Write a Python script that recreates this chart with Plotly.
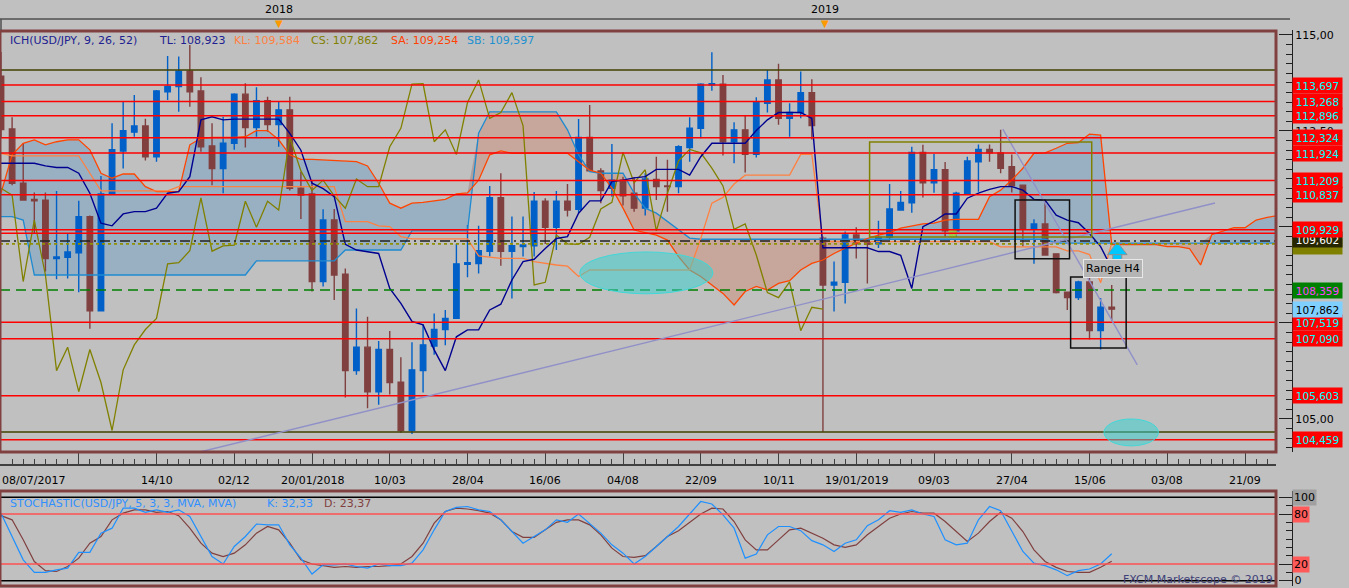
import plotly.graph_objects as go

# ---------------- DATA ----------------
# weekly USD/JPY candles, x = week index (0 = 08/07/2017)
OPEN = [113.93, 112.55, 111.14, 110.72, 110.70, 109.18, 109.21, 109.33, 110.27, 107.82,
        110.86, 111.98, 112.47, 112.63, 111.83, 113.52, 113.66, 114.06, 113.54, 112.11,
        111.52, 112.18, 113.46, 112.59, 113.29, 112.67, 113.05, 111.01, 110.86, 108.58,
        110.18, 108.77, 106.26, 106.87, 105.71, 106.81, 105.96, 104.70, 106.26, 106.90,
        107.33, 107.62, 109.03, 109.05, 109.37, 110.76, 109.37, 109.49, 109.51, 110.67,
        109.99, 110.67, 110.46, 112.33, 111.46, 111.01, 111.22, 110.88, 110.49, 111.24,
        111.07, 111.05, 112.07, 112.57, 113.70, 113.72, 112.22, 112.53, 111.89, 113.22,
        113.83, 112.83, 112.98, 113.50, 109.71, 108.49, 108.56, 109.79, 109.60, 109.56,
        109.73, 110.44, 110.63, 111.94, 111.15, 111.49, 109.90, 110.86, 111.70, 112.02,
        111.93, 111.57, 111.09, 109.94, 110.08, 109.30, 108.30, 108.16, 108.57, 107.30,
        107.91]
HIGH = [114.56, 112.86, 112.18, 110.90, 110.90, 110.94, 109.82, 110.68, 110.30, 111.33,
        112.70, 113.26, 113.44, 112.82, 113.57, 114.45, 114.44, 114.74, 113.90, 112.70,
        112.87, 113.48, 113.74, 113.64, 113.39, 113.28, 113.39, 111.44, 111.22, 110.46,
        110.47, 108.92, 107.88, 107.66, 107.03, 107.29, 106.61, 107.00, 107.47, 107.75,
        107.84, 109.56, 110.05, 110.03, 111.07, 111.40, 110.27, 110.27, 110.91, 110.75,
        110.94, 111.12, 112.81, 113.18, 111.53, 112.16, 111.31, 111.30, 111.40, 111.83,
        111.75, 112.13, 112.86, 113.74, 114.55, 113.96, 112.73, 112.89, 113.38, 114.09,
        114.25, 113.22, 114.05, 113.85, 109.75, 109.10, 109.88, 109.99, 109.70, 110.16,
        111.12, 110.94, 112.09, 112.14, 111.90, 111.69, 110.92, 111.83, 112.15, 112.15,
        112.53, 111.89, 111.10, 110.20, 110.70, 109.30, 108.32, 108.60, 108.70, 108.15,
        108.49]
LOW = [112.31, 111.09, 110.68, 109.84, 108.84, 108.64, 108.66, 108.30, 107.35, 107.80,
       110.85, 111.52, 112.35, 111.73, 111.70, 113.31, 113.00, 113.13, 111.96, 111.09,
       110.88, 112.01, 112.07, 112.35, 112.48, 112.09, 110.95, 110.21, 108.32, 108.45,
       108.10, 105.56, 106.15, 105.28, 105.37, 105.64, 104.64, 104.61, 105.69, 106.67,
       106.92, 107.61, 108.69, 108.79, 109.23, 108.99, 108.14, 109.23, 109.23, 109.56,
       109.40, 110.27, 110.36, 111.44, 110.62, 110.79, 110.56, 110.40, 110.30, 110.70,
       110.40, 110.88, 111.70, 112.31, 113.55, 111.86, 111.66, 111.42, 111.81, 112.98,
       112.66, 112.35, 112.83, 112.28, 104.67, 107.80, 108.01, 109.18, 108.53, 109.45,
       109.68, 110.43, 110.37, 110.77, 110.89, 109.75, 109.75, 110.83, 110.92, 111.70,
       111.40, 110.90, 109.49, 109.04, 109.25, 108.27, 107.84, 108.10, 107.07, 106.81,
       107.56]
CLOSE = [112.54, 111.14, 110.70, 110.68, 109.18, 109.22, 109.35, 110.27, 107.82, 110.86,
         112.01, 112.51, 112.63, 111.83, 113.54, 113.66, 114.06, 113.52, 112.09, 111.52,
         112.18, 113.46, 112.59, 113.29, 112.67, 113.05, 111.01, 110.83, 108.58, 110.18,
         108.75, 106.26, 106.87, 105.71, 106.81, 105.95, 104.70, 106.28, 106.93, 107.33,
         107.62, 109.04, 109.07, 109.38, 110.76, 109.37, 109.51, 109.53, 110.67, 109.99,
         110.67, 110.44, 112.33, 111.46, 110.95, 111.22, 110.81, 110.49, 111.25, 111.05,
         111.05, 112.09, 112.57, 113.72, 113.73, 112.22, 112.53, 111.89, 113.24, 113.83,
         112.83, 112.98, 113.50, 112.64, 108.49, 108.56, 109.79, 109.56, 109.55, 109.73,
         110.47, 110.64, 111.94, 111.15, 111.49, 109.90, 110.88, 111.72, 112.02, 111.93,
         111.53, 111.07, 109.94, 110.08, 109.27, 108.29, 108.16, 108.57, 107.30, 107.91,
         107.86]

# Ichimoku lines
TENKAN = [111.66, 111.66, 111.66, 111.66, 111.59, 111.55, 111.55, 111.40, 110.88, 110.10,
          110.03, 110.34, 110.40, 110.40, 110.49, 110.88, 110.92, 111.31, 112.79, 112.87,
          112.79, 112.81, 112.81, 112.81, 112.81, 112.81, 112.44, 112.00, 111.14, 111.00,
          110.79, 109.55, 109.40, 109.36, 109.31, 108.40, 108.01, 107.54, 107.45, 106.80,
          106.26, 107.14, 107.32, 107.32, 107.84, 107.99, 108.62, 109.10, 109.16, 109.44,
          109.70, 109.75, 110.36, 110.68, 110.68, 111.18, 111.22, 111.28, 111.31, 111.50,
          111.50, 111.50, 111.35, 111.83, 112.18, 112.18, 112.18, 112.18, 112.51, 112.79,
          112.98, 112.98, 112.98, 112.83, 109.46, 109.46, 109.46, 109.46, 109.46, 109.36,
          109.36, 109.26, 108.40, 110.01, 110.15, 110.34, 110.34, 110.75, 110.88, 110.98,
          111.05, 111.05, 110.96, 110.72, 110.70, 110.31, 110.18, 110.11, 109.83, 109.49,
          108.92]
KIJUN = [111.92, 111.85, 111.85, 111.85, 111.85, 111.85, 111.85, 111.85, 111.40, 110.94,
         110.94, 110.94, 110.94, 110.94, 110.94, 110.94, 111.05, 111.05, 111.05, 111.05,
         111.05, 111.05, 111.05, 111.05, 111.05, 111.05, 111.05, 111.05, 111.05, 111.05,
         111.05, 110.14, 110.14, 110.14, 110.03, 110.01, 109.75, 109.69, 109.69, 109.69,
         109.69, 109.69, 109.69, 109.25, 109.21, 109.18, 109.18, 109.18, 109.10, 109.05,
         109.01, 108.98, 108.71, 108.88, 108.88, 108.88, 108.88, 108.88, 108.88, 108.88,
         108.88, 108.88, 108.88, 109.70, 110.62, 110.77, 111.12, 111.35, 111.35, 111.35,
         111.35, 111.35, 111.89, 111.89, 109.62, 109.62, 109.62, 109.62, 109.62, 109.62,
         109.62, 109.62, 109.62, 109.62, 109.62, 109.62, 109.62, 109.62, 109.62, 109.62,
         109.48, 109.48, 109.48, 109.48, 109.48, 109.48, 109.38, 109.38, 109.28, 108.55,
         109.58]
SENKOU_A = [110.88, 111.88, 112.18, 112.27, 112.14, 112.22, 112.27, 112.27, 112.01, 111.40,
            111.27, 111.38, 111.38, 111.05, 110.92, 110.92, 110.92, 112.14, 112.31, 112.33,
            112.33, 112.33, 112.35, 112.51, 112.51, 112.27, 111.88, 111.76, 111.76, 111.75,
            111.73, 111.72, 111.70, 111.59, 111.14, 110.62, 110.49, 110.62, 110.64, 110.68,
            110.72, 110.86, 110.89, 111.22, 111.88, 111.98, 111.92, 111.92, 111.92, 111.92,
            111.92, 111.92, 111.70, 111.48, 111.40, 111.01, 110.49, 109.92, 109.85, 109.79,
            109.66, 109.23, 108.88, 108.71, 108.49, 108.27, 107.97, 108.32, 108.45, 108.36,
            108.53, 108.60, 108.88, 109.05, 109.14, 109.31, 109.45, 109.57, 109.70, 109.79,
            109.85, 109.97, 110.02, 110.08, 110.10, 110.18, 110.20, 110.20, 110.20, 110.79,
            110.96, 111.22, 111.53, 111.92, 111.93, 112.05, 112.18, 112.20, 112.42, 112.39,
            109.54, 109.54, 109.54, 109.54, 109.54, 109.49, 109.49, 109.44, 109.01, 109.80,
            109.88, 109.98, 109.98, 110.18, 110.25, 110.30]
SENKOU_B = [110.27, 110.27, 110.18, 108.75, 108.75, 108.75, 108.75, 108.75, 108.75, 108.75,
            108.75, 108.75, 108.75, 108.75, 108.75, 108.75, 108.75, 108.75, 108.75, 108.75,
            108.75, 108.75, 108.75, 109.12, 109.12, 109.12, 109.12, 109.12, 109.12, 109.12,
            109.12, 109.40, 109.40, 109.40, 109.40, 109.40, 109.40, 109.90, 109.90, 109.90,
            109.90, 109.90, 109.90, 112.44, 113.00, 113.00, 113.00, 113.00, 113.00, 113.00,
            113.00, 112.53, 111.88, 111.44, 111.40, 111.40, 111.40, 110.88, 110.49, 110.36,
            110.14, 109.92, 109.71, 109.68, 109.68, 109.68, 109.68, 109.68, 109.68, 109.68,
            109.68, 109.68, 109.68, 109.68, 109.68, 109.68, 109.68, 109.68, 109.68, 109.68,
            109.68, 109.68, 109.68, 109.68, 109.68, 109.68, 109.68, 109.68, 109.68, 109.68,
            109.68, 109.68, 109.68, 109.68, 109.68, 109.58, 109.58, 109.58, 109.58, 109.58,
            109.58, 109.58, 109.58, 109.58, 109.58, 109.58, 109.58, 109.58, 109.58, 109.58,
            109.58, 109.58, 109.58, 109.58, 109.58, 109.58]
CHIKOU_SHIFT = 26

# Stochastic (5,3,3)
STOCH_K = [81, 53, 25, 10, 10, 13, 15, 34, 34, 57, 63, 87, 87, 82, 85, 82, 85, 77, 53, 29,
           20, 41, 53, 68, 67, 67, 43, 27, 8, 19, 19, 20, 17, 15, 20, 18, 18, 21, 37, 61,
           83, 88, 89, 85, 83, 73, 59, 45, 53, 61, 73, 70, 80, 69, 57, 43, 33, 20, 29, 41,
           53, 65, 80, 95, 92, 79, 63, 27, 32, 55, 65, 65, 60, 48, 43, 35, 45, 49, 66, 73,
           84, 82, 85, 80, 77, 49, 43, 45, 73, 89, 84, 59, 35, 21, 18, 13, 6, 12, 14, 20,
           32.33]
STOCH_D = [78, 73, 49, 23, 12, 11, 17, 27, 45, 53, 73, 81, 85, 85, 82, 83, 78, 63, 45, 33,
           29, 33, 43, 57, 65, 61, 45, 25, 20, 18, 16, 17, 16, 17, 17, 18, 20, 29, 45, 69,
           83, 87, 86, 84, 81, 73, 59, 52, 52, 61, 70, 73, 73, 67, 55, 39, 29, 28, 30, 41,
           53, 60, 70, 80, 87, 86, 71, 49, 37, 37, 49, 61, 63, 57, 51, 43, 40, 43, 55, 65,
           75, 80, 83, 81, 81, 71, 59, 47, 57, 71, 82, 75, 59, 37, 23, 16, 11, 10, 10, 16,
           23.37]

# x axis labels (every 7 weeks)
TICK_POS = [0, 7, 14, 21, 28, 35, 42, 49, 56, 63, 70, 77, 84, 91, 98, 105, 112]
TICK_TEXT = ["08/07/2017", "", "14/10", "02/12", "20/01/2018", "10/03", "28/04", "16/06",
             "04/08", "22/09", "10/11", "19/01/2019", "09/03", "27/04", "15/06", "03/08", "21/09"]
YEAR_TEXT = ["2018", "2019"]
YEAR_POS = [25.0, 74.2]
PRICE_TICKS = [105, 107.5, 110, 112.5, 115]
PRICE_TICK_TEXT = ["105,00", "", "", "112,50", "115,00"]   # the others sit under the level tags
STOCH_TICKS = [0, 20, 80, 100]

# horizontal levels drawn on the chart
RED_LEVELS = [113.697, 113.268, 112.896, 112.324, 111.924, 111.209, 110.837, 109.929,
              109.84, 107.519, 107.090, 105.603, 104.459]
RED_LABELED = [113.697, 113.268, 112.896, 112.324, 111.924, 111.209, 110.837, 109.929,
               107.519, 107.090, 105.603, 104.459]
OLIVE_LEVELS = [114.09, 104.66]
DASHDOT_LEVEL = 109.635
DOTTED_LEVEL = 109.56
GREEN_LEVEL = 108.359
LAST_PRICE = 107.862
TAG_602 = 109.602

# drawings: (x0, y0, x1, y1) in week index / price
TRENDLINES = [(17.9, 104.14, 109.3, 110.625), (90.2, 112.55, 102.3, 106.41)]
OLIVE_BOX = (78.2, 109.74, 98.2, 112.21)
BLACK_BOXES = [(91.3, 109.17, 96.2, 110.70), (96.3, 106.85, 101.3, 108.70)]
ELLIPSES = [(52.1, 108.26, 64.1, 109.35), (99.3, 104.30, 104.2, 105.00)]
ARROW_AT = (100.5, 109.39, 109.19)   # x, head centre, stem centre

# ---------------- layout helpers (pixel geometry) ----------------
FIG_W, FIG_H = 1349, 588
AREA_R = 1292          # right edge of plotting area (price axis line)
FRAME_R = 1276         # right edge of chart frame
TOP, BOT = 30, 586


def yp(ypx):
    return (BOT - ypx) / (BOT - TOP)


def xp(xpx):
    return xpx / AREA_R


XR = xp(FRAME_R)
FONT = "DejaVu Sans"
BROWN = "#804040"
BLUE_C = "#0060c8"

fig = go.Figure()

cloud_x = list(range(len(SENKOU_A)))
cloud_top = [max(a, b) for a, b in zip(SENKOU_A, SENKOU_B)]

# cloud fills (base layer)
fig.add_trace(go.Scatter(x=cloud_x, y=SENKOU_B, mode="lines", line=dict(width=0),
                         hoverinfo="skip", xaxis="x", yaxis="y"))
fig.add_trace(go.Scatter(x=cloud_x, y=cloud_top, mode="lines", line=dict(width=0),
                         fill="tonexty", fillcolor="rgba(90,150,200,0.38)",
                         hoverinfo="skip", xaxis="x", yaxis="y"))
fig.add_trace(go.Scatter(x=cloud_x, y=SENKOU_A, mode="lines", line=dict(width=0),
                         hoverinfo="skip", xaxis="x", yaxis="y"))
fig.add_trace(go.Scatter(x=cloud_x, y=cloud_top, mode="lines", line=dict(width=0),
                         fill="tonexty", fillcolor="rgba(210,130,100,0.40)",
                         hoverinfo="skip", xaxis="x", yaxis="y"))

# candles (overlay layer, above cloud)
weeks = list(range(len(OPEN)))
fig.add_trace(go.Candlestick(
    x=weeks, open=OPEN, high=HIGH, low=LOW, close=CLOSE,
    increasing=dict(line=dict(color=BLUE_C, width=1.4), fillcolor=BLUE_C),
    decreasing=dict(line=dict(color=BROWN, width=1.4), fillcolor=BROWN),
    whiskerwidth=0, xaxis="x", yaxis="y3", hoverinfo="skip"))

# ichimoku lines
fig.add_trace(go.Scatter(x=cloud_x, y=SENKOU_B, mode="lines",
                         line=dict(color="#1e8ad0", width=1.3), xaxis="x", yaxis="y3"))
fig.add_trace(go.Scatter(x=cloud_x, y=SENKOU_A, mode="lines",
                         line=dict(color="#ff4500", width=1.3), xaxis="x", yaxis="y3"))
fig.add_trace(go.Scatter(x=weeks, y=KIJUN, mode="lines",
                         line=dict(color="#ff8040", width=1.3), xaxis="x", yaxis="y3"))
chikou_x = [w - CHIKOU_SHIFT for w in weeks[CHIKOU_SHIFT:]]
fig.add_trace(go.Scatter(x=chikou_x, y=CLOSE[CHIKOU_SHIFT:], mode="lines",
                         line=dict(color="#808000", width=1.3), xaxis="x", yaxis="y3"))
fig.add_trace(go.Scatter(x=weeks, y=TENKAN, mode="lines",
                         line=dict(color="#000090", width=1.4), xaxis="x", yaxis="y3"))

# small markers
fig.add_trace(go.Scatter(x=[85.7], y=[109.84], mode="markers",
                         marker=dict(color="#9acd40", size=9, opacity=0.85),
                         xaxis="x", yaxis="y3"))
ax, ahead, astem = ARROW_AT
fig.add_trace(go.Scatter(x=[ax], y=[astem], mode="markers",
                         marker=dict(symbol="square", color="#00c8ff", size=9,
                                     line=dict(color="#909090", width=1)),
                         xaxis="x", yaxis="y3"))
fig.add_trace(go.Scatter(x=[ax], y=[ahead], mode="markers",
                         marker=dict(symbol="triangle-up", color="#00c8ff", size=17,
                                     line=dict(color="#909090", width=1)),
                         xaxis="x", yaxis="y3"))

# stochastic
fig.add_trace(go.Scatter(x=weeks, y=STOCH_D, mode="lines",
                         line=dict(color=BROWN, width=1.2), xaxis="x", yaxis="y2"))
fig.add_trace(go.Scatter(x=weeks, y=STOCH_K, mode="lines",
                         line=dict(color="#1e90ff", width=1.2), xaxis="x", yaxis="y2"))

# ---------------- shapes ----------------
shapes = []


def hline(level, color, width=1.5, dash="solid", yref="y"):
    shapes.append(dict(type="line", xref="paper", x0=0, x1=XR, yref=yref, y0=level, y1=level,
                       line=dict(color=color, width=width, dash=dash), layer="above"))


for lvl in RED_LEVELS:
    hline(lvl, "#ff0000", 1.5)
for lvl in OLIVE_LEVELS:
    hline(lvl, "#404000", 1.5)
hline(DASHDOT_LEVEL, "#202020", 1.5, "10px,4px,2px,4px")
hline(DOTTED_LEVEL, "#909000", 1.8, "3px,3px")
hline(GREEN_LEVEL, "#008000", 1.5, "10px,6px")

for (x0, y0, x1, y1) in TRENDLINES:
    shapes.append(dict(type="line", xref="x", yref="y", x0=x0, y0=y0, x1=x1, y1=y1,
                       line=dict(color="#9090c8", width=1.4), layer="above"))
x0, y0, x1, y1 = OLIVE_BOX
shapes.append(dict(type="rect", xref="x", yref="y", x0=x0, y0=y0, x1=x1, y1=y1,
                   line=dict(color="#808000", width=1.5), layer="above"))
for (x0, y0, x1, y1) in BLACK_BOXES:
    shapes.append(dict(type="rect", xref="x", yref="y", x0=x0, y0=y0, x1=x1, y1=y1,
                       line=dict(color="#101010", width=1.5), layer="above"))
for (x0, y0, x1, y1) in ELLIPSES:
    shapes.append(dict(type="circle", xref="x", yref="y", x0=x0, y0=y0, x1=x1, y1=y1,
                       fillcolor="rgba(50,210,210,0.5)", line=dict(color="#40d8d8", width=1),
                       layer="above"))

# stochastic levels
hline(100, "#000000", 1.5, yref="y2")
hline(0, "#000000", 1.5, yref="y2")
hline(80, "#ff5050", 1.3, yref="y2")
hline(20, "#ff5050", 1.3, yref="y2")

# frames
shapes.append(dict(type="rect", xref="paper", yref="paper", x0=0, x1=XR, y0=yp(452), y1=yp(31),
                   line=dict(color=BROWN, width=3), layer="above"))
shapes.append(dict(type="rect", xref="paper", yref="paper", x0=0, x1=XR, y0=yp(586), y1=yp(491),
                   line=dict(color=BROWN, width=3), layer="above"))
# top time strip
shapes.append(dict(type="line", xref="paper", yref="paper", x0=0, x1=xp(1290), y0=yp(19), y1=yp(19),
                   line=dict(color="#505050", width=1.5)))
shapes.append(dict(type="line", xref="paper", yref="paper", x0=xp(1), x1=xp(1), y0=yp(19), y1=yp(30),
                   line=dict(color="#505050", width=1.5)))

# ---------------- annotations ----------------
ann = []


def fmt(v, d=3):
    return f"{v:.{d}f}".replace(".", ",")


def tag(level, text, bg, fg, yref="y", width=47, size=10.5):
    ann.append(dict(xref="paper", x=1, xanchor="left", yref=yref, y=level, yanchor="middle",
                    text=text, showarrow=False, bgcolor=bg, width=width, height=13, borderpad=1,
                    font=dict(family=FONT, size=size, color=fg), align="center"))


tag(109.50, "", "#808000", "#ffffff")
tag(DASHDOT_LEVEL + 0.04, fmt(TAG_602), "#262600", "#ffffff")
for lvl in RED_LABELED:
    tag(lvl, fmt(lvl), "#ff0000", "#00ffff")
tag(GREEN_LEVEL, fmt(GREEN_LEVEL), "#008000", "#ff40ff")
tag(LAST_PRICE, fmt(LAST_PRICE), "#80d0ff", "#000000")

# stochastic axis tags
tag(100, "100", "#a0a0a0", "#000000", yref="y2", width=21, size=11)
tag(80, "80", "#ff5a5a", "#000000", yref="y2", width=14, size=11)
tag(20, "20", "#ff5a5a", "#000000", yref="y2", width=14, size=11)
tag(0, "0", "rgba(0,0,0,0)", "#000000", yref="y2", width=8, size=11)

# date labels
for pos, txt in zip(TICK_POS, TICK_TEXT):
    if not txt:
        continue
    first = pos == TICK_POS[0]
    ann.append(dict(xref="x", x=pos, yref="paper", y=yp(480), yanchor="middle",
                    xanchor="left" if first else "center", xshift=-1 if first else 0,
                    text=txt, showarrow=False, font=dict(family=FONT, size=11, color="#000000")))

# year markers
for pos, txt in zip(YEAR_POS, YEAR_TEXT):
    ann.append(dict(xref="x", x=pos, yref="paper", y=yp(9), yanchor="middle", text=txt,
                    showarrow=False, font=dict(family=FONT, size=11, color="#000000")))
    ann.append(dict(xref="x", x=pos, yref="paper", y=yp(23), yanchor="middle", text="▼",
                    showarrow=False, font=dict(family=FONT, size=10, color="#ff9900")))

# indicator legends
LEG_MAIN = [("ICH(USD/JPY, 9, 26, 52)", 8, "#202090"), ("TL: 108,923", 157, "#202090"),
            ("KL: 109,584", 232, "#ff8040"), ("CS: 107,862", 309, "#808000"),
            ("SA: 109,254", 389, "#ff4000"), ("SB: 109,597", 465, "#2090d0")]
for txt, xpx, col in LEG_MAIN:
    ann.append(dict(xref="paper", x=xp(xpx), xanchor="left", yref="paper", y=yp(41),
                    yanchor="middle", text=txt, showarrow=False,
                    font=dict(family=FONT, size=11, color=col)))
LEG_STOCH = [("STOCHASTIC(USD/JPY, 5, 3, 3, MVA, MVA)", 8, "#3090ff"),
             ("K: 32,33", 265, "#3090ff"), ("D: 23,37", 322, BROWN)]
for txt, xpx, col in LEG_STOCH:
    ann.append(dict(xref="paper", x=xp(xpx), xanchor="left", yref="paper", y=yp(503),
                    yanchor="middle", text=txt, showarrow=False,
                    font=dict(family=FONT, size=11, color=col)))

ann.append(dict(xref="x", x=100.1, yref="y", y=108.92, text="Range H4", showarrow=False,
                bgcolor="#b4b4b4", bordercolor="#e8e8e8", borderwidth=1, borderpad=2,
                font=dict(family=FONT, size=11, color="#000000")))
ann.append(dict(xref="paper", x=xp(1275), xanchor="right", yref="paper", y=yp(579),
                yanchor="middle", text="FXCM Marketscope © 2019", showarrow=False,
                font=dict(family=FONT, size=11, color="#404078")))

# ---------------- layout ----------------
PRICE_RANGE = [104.14, 115.13]
fig.update_layout(
    width=FIG_W, height=FIG_H,
    margin=dict(l=0, r=FIG_W - AREA_R, t=TOP, b=FIG_H - BOT),
    paper_bgcolor="#c0c0c0", plot_bgcolor="#c0c0c0",
    showlegend=False, separators=",.",
    font=dict(family=FONT, size=11, color="#000000"),
    shapes=shapes, annotations=ann,
    xaxis=dict(domain=[0, XR], range=[-0.09, 114.79], anchor="free", position=yp(464),
               showgrid=False, zeroline=False, showline=True, linecolor="#404040", linewidth=1.5,
               tickmode="linear", tick0=0, dtick=7, ticks="inside", ticklen=12,
               tickcolor="#404040", showticklabels=False,
               minor=dict(tickmode="linear", tick0=0, dtick=1, ticks="inside", ticklen=5,
                          tickcolor="#404040"),
               rangeslider=dict(visible=False), fixedrange=True),
    yaxis=dict(domain=[yp(452), 1], range=PRICE_RANGE, anchor="free", position=1, side="right",
               showgrid=False, zeroline=False, showline=True, linecolor="#202020",
               tickmode="array", tickvals=PRICE_TICKS, ticktext=PRICE_TICK_TEXT,
               ticks="inside", ticklen=13, tickcolor="#202020",
               tickfont=dict(family=FONT, size=11, color="#000000"),
               minor=dict(tickmode="linear", tick0=105, dtick=0.25, ticks="inside", ticklen=6,
                          tickcolor="#202020")),
    yaxis3=dict(overlaying="y", range=PRICE_RANGE, anchor="free", position=1, side="right",
                visible=False, showgrid=False, zeroline=False),
    yaxis2=dict(domain=[0, yp(491)], range=[-6.4, 107.6], anchor="free", position=1, side="right",
                showgrid=False, zeroline=False, showline=True, linecolor="#202020",
                tickmode="array", tickvals=STOCH_TICKS, showticklabels=False,
                ticks="inside", ticklen=13, tickcolor="#202020",
                minor=dict(tickmode="linear", tick0=0, dtick=10, ticks="inside", ticklen=6,
                           tickcolor="#202020")),
)

fig.write_html("out.html", config={"staticPlot": True},
               post_script="document.body.style.margin='0px';document.body.style.padding='0px';")
